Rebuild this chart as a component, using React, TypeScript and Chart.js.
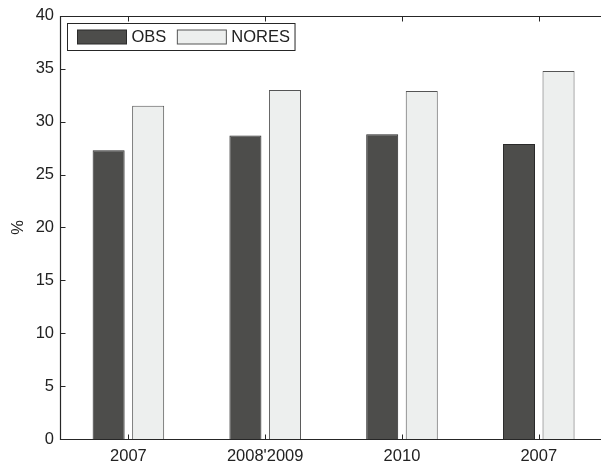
import React, { useEffect, useRef } from 'react';
import { Chart, registerables } from 'chart.js';

Chart.register(...registerables);

// Category labels along the x axis
const categories: string[] = ['2007', "2008'2009", '2010', '2007'];
// Series names
const seriesNames: string[] = ['OBS', 'NORES'];
// Percent values per category
const obsValues: number[] = [27.3, 28.7, 28.8, 27.9];
const noresValues: number[] = [31.5, 33.0, 32.9, 34.8];
// Value axis range and step
const yMin = 0;
const yMax = 40;
const yStep = 5;

const FONT_FAMILY = '"Liberation Sans", Arial, Helvetica, sans-serif';
const FONT_SIZE = 16.5;
const TEXT_COLOR = '#222222';
const LINE_COLOR = '#262626';

const seriesFill = ['#4d4d4b', '#edefee'];
const seriesBorder = ['#2a2a2a', '#555555'];

// Axis frame with inward tick marks, drawn over the bars
const framePlugin = {
  id: 'frame',
  afterDatasetsDraw(chart: any) {
    const { ctx, chartArea: a, scales } = chart;
    const xs = scales.x;
    const ys = scales.y;
    const L = Math.round(a.left) + 0.5;
    const T = Math.round(a.top) + 0.5;
    const B = Math.round(a.bottom) + 0.5;
    const R = chart.width + 2;
    ctx.save();
    ctx.strokeStyle = LINE_COLOR;
    ctx.lineWidth = 1.2;
    ctx.beginPath();
    ctx.moveTo(R, T);
    ctx.lineTo(L, T);
    ctx.lineTo(L, B);
    ctx.lineTo(R, B);
    ctx.stroke();
    const tick = 5;
    ctx.lineWidth = 1;
    ctx.beginPath();
    ys.ticks.forEach((t: any) => {
      const py = Math.round(ys.getPixelForValue(t.value)) + 0.5;
      ctx.moveTo(L, py);
      ctx.lineTo(L + tick, py);
    });
    xs.ticks.forEach((t: any) => {
      if (!Number.isInteger(t.value)) return;
      const px = Math.round(xs.getPixelForValue(t.value)) + 0.5;
      ctx.moveTo(px, B);
      ctx.lineTo(px, B - tick);
      ctx.moveTo(px, T);
      ctx.lineTo(px, T + tick);
    });
    ctx.stroke();
    ctx.restore();
  },
};

// Boxed legend placed in the upper-left corner of the plot
const boxLegendPlugin = {
  id: 'boxLegend',
  afterDraw(chart: any) {
    const { ctx, chartArea: a } = chart;
    const datasets = chart.data.datasets;
    ctx.save();
    ctx.font = `${FONT_SIZE}px ${FONT_FAMILY}`;
    ctx.textBaseline = 'middle';
    const boxX = Math.round(a.left) + 7.5;
    const boxY = Math.round(a.top) + 7.5;
    const boxH = 27;
    const swW = 49;
    const swH = 14;
    const padL = 10;
    const textGap = 5;
    const itemGap = 11;
    let x = boxX + padL;
    const items: { x: number; tx: number; ds: any }[] = [];
    datasets.forEach((ds: any) => {
      const tw = ctx.measureText(ds.label).width;
      items.push({ x, tx: x + swW + textGap, ds });
      x += swW + textGap + tw + itemGap;
    });
    const boxW = x - itemGap + 5 - boxX;
    ctx.fillStyle = '#ffffff';
    ctx.fillRect(boxX, boxY, boxW, boxH);
    ctx.strokeStyle = LINE_COLOR;
    ctx.lineWidth = 1;
    ctx.strokeRect(boxX, boxY, boxW, boxH);
    const midY = boxY + boxH / 2;
    items.forEach((it) => {
      const sy = Math.round(midY - swH / 2);
      ctx.fillStyle = it.ds.backgroundColor;
      ctx.fillRect(it.x, sy, swW, swH);
      ctx.strokeStyle = it.ds.borderColor;
      ctx.strokeRect(it.x, sy, swW, swH);
      ctx.fillStyle = TEXT_COLOR;
      ctx.textAlign = 'left';
      ctx.fillText(it.ds.label, it.tx, midY + 0.5);
    });
    ctx.restore();
  },
};

export default function App() {
  const canvasRef = useRef<HTMLCanvasElement | null>(null);

  useEffect(() => {
    const canvas = canvasRef.current;
    if (!canvas) return;
    const font = { family: FONT_FAMILY, size: FONT_SIZE };
    const seriesValues = [obsValues, noresValues];

    const chart = new Chart(canvas, {
      type: 'bar',
      data: {
        datasets: seriesNames.map((name, s) => ({
          label: name,
          data: categories.map((_, i) => ({ x: i + 1, y: seriesValues[s][i] })),
          backgroundColor: seriesFill[s],
          borderColor: seriesBorder[s],
          borderWidth: 1,
          borderSkipped: 'bottom',
          categoryPercentage: 0.578,
          barPercentage: 0.81,
        })),
      },
      options: {
        animation: false,
        responsive: true,
        maintainAspectRatio: false,
        layout: { padding: { top: 15, right: 0, bottom: 0, left: 0 } },
        plugins: {
          legend: { display: false },
          tooltip: { enabled: false },
        },
        scales: {
          x: {
            type: 'linear',
            offset: false,
            min: 0.5,
            max: 4.455,
            grid: { display: false, drawTicks: false, offset: false },
            border: { display: false },
            ticks: {
              stepSize: 1,
              includeBounds: false,
              autoSkip: false,
              maxRotation: 0,
              padding: 8,
              color: TEXT_COLOR,
              font,
              callback: (v: any) =>
                Number.isInteger(v) && categories[v - 1] !== undefined ? categories[v - 1] : '',
            },
            afterFit: (s: any) => {
              s.height = 29;
            },
          },
          y: {
            min: yMin,
            max: yMax,
            grid: { display: false, drawTicks: false },
            border: { display: false },
            ticks: { stepSize: yStep, padding: 6, color: TEXT_COLOR, font },
            title: {
              display: true,
              text: '%',
              color: TEXT_COLOR,
              font,
              padding: { top: 9, bottom: 0 },
            },
            afterFit: (s: any) => {
              s.width = 60;
            },
          },
        },
      } as any,
      plugins: [framePlugin, boxLegendPlugin],
    });

    return () => chart.destroy();
  }, []);

  return (
    <div
      style={{
        position: 'fixed',
        left: 0,
        top: 0,
        width: 601,
        height: 468,
        background: '#ffffff',
      }}
    >
      <canvas ref={canvasRef} />
    </div>
  );
}
